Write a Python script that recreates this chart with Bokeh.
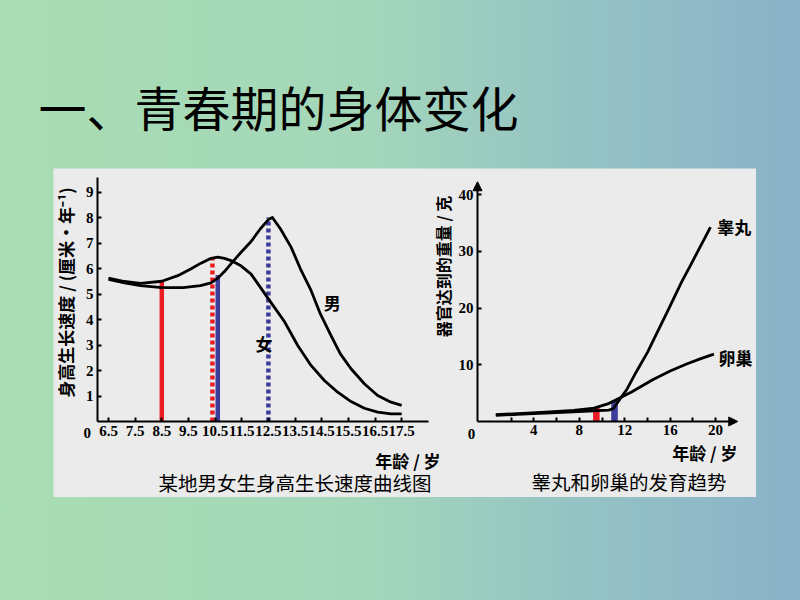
import math
from bokeh.plotting import figure
from bokeh.models import (Range1d, FixedTicker, Label, Arrow, NormalHead, Spacer,
                          LinearAxis)
from bokeh.layouts import column, row
from bokeh.embed import file_html
from bokeh.resources import INLINE

# ---------------- data: 某地男女生身高生长速度曲线图 ----------------
left_age_ticks = [6.5, 7.5, 8.5, 9.5, 10.5, 11.5, 12.5, 13.5, 14.5, 15.5, 16.5, 17.5]
left_speed_ticks = [1, 2, 3, 4, 5, 6, 7, 8, 9]

girl_age = [6.5, 7.1, 7.7, 8.5, 9.1, 9.6, 9.95, 10.35, 10.6, 10.85, 11.1, 11.45,
            11.85, 12.2, 12.5, 13.1, 13.6, 14.1, 14.6, 15.1, 15.6, 16.1, 16.6, 17.1, 17.5]
girl_speed = [5.62, 5.49, 5.42, 5.50, 5.72, 5.99, 6.20, 6.40, 6.45, 6.40, 6.31, 6.12,
              5.78, 5.26, 4.81, 3.92, 2.98, 2.20, 1.61, 1.15, 0.78, 0.52, 0.37, 0.30, 0.30]

boy_age = [6.5, 7.1, 7.7, 8.5, 9.3, 9.95, 10.35, 10.6, 10.85, 11.15, 11.45, 11.85, 12.2,
           12.5, 12.65, 12.95, 13.35, 13.7, 14.1, 14.45, 14.85, 15.2, 15.6, 16.1, 16.6, 17.1, 17.5]
boy_speed = [5.57, 5.44, 5.33, 5.25, 5.25, 5.33, 5.44, 5.62, 5.88, 6.25, 6.61, 7.06, 7.56,
             7.92, 8.00, 7.56, 6.84, 5.99, 5.14, 4.22, 3.37, 2.65, 2.07, 1.48, 1.02, 0.76, 0.63]

red_solid_age, red_solid_top = [8.5], [5.5]
red_dot_age, red_dot_top = [10.4], [6.45]
blue_solid_age, blue_solid_top = [10.6], [5.75]
blue_dot_age, blue_dot_top = [12.5], [8.0]

# ---------------- data: 睾丸和卵巢的发育趋势 ----------------
right_age_ticks = [4, 8, 12, 16, 20]
right_age_minor = [2, 6, 10, 14, 18]
weight_ticks = [10, 20, 30, 40]

testis_age = [0.65, 3.0, 5.0, 7.5, 9.3, 10.6, 11.0, 11.35, 11.7, 12.2, 13.0, 14.0,
              15.0, 16.0, 17.0, 17.8, 19.55]
testis_weight = [1.1, 1.3, 1.5, 1.7, 1.9, 2.0, 2.3, 3.3, 4.3, 5.7, 8.7, 12.2,
                 16.3, 20.4, 24.6, 27.6, 34.3]

ovary_age = [0.65, 3.0, 5.0, 7.5, 9.3, 10.5, 11.6, 12.6, 14.5, 16.0, 17.5, 18.7, 19.85]
ovary_weight = [1.2, 1.45, 1.65, 1.95, 2.35, 3.1, 4.2, 5.2, 7.4, 8.9, 10.2, 11.1, 11.9]

red_bar_age, red_bar_top = [9.5], [2.4]
blue_bar_age, blue_bar_top = [11.1], [3.65]

# ---------------- styles ----------------
BOX = "#ebebeb"
CJK = "Noto Sans CJK SC"
NUM = "Liberation Serif"
RED = "#ee1d23"
BLUE = "#3c3c9c"


def style_axis(ax, ticks, minor=None):
    ax.ticker = FixedTicker(ticks=ticks, minor_ticks=minor or [])
    ax.axis_line_width = 2
    ax.axis_line_color = "black"
    ax.major_tick_in = 4
    ax.major_tick_out = 0
    ax.major_tick_line_width = 2
    ax.major_tick_line_color = "black"
    ax.minor_tick_in = 4 if minor else 0
    ax.minor_tick_out = 0
    ax.minor_tick_line_width = 2
    ax.minor_tick_line_color = "black"
    ax.major_label_text_font = NUM
    ax.major_label_text_font_style = "bold"
    ax.major_label_text_font_size = "15px"
    ax.major_label_text_color = "black"
    ax.major_label_standoff = 4


def label(fig, x, y, text, size, bold=True, align="left", angle=0.0, font=CJK, rng=None):
    extra = {"x_range_name": rng, "y_range_name": rng} if rng else {}
    fig.add_layout(Label(x=x, y=y, text=text, text_font=font, text_font_size=size,
                         text_font_style="bold" if bold else "normal", text_align=align,
                         text_baseline="middle", text_color="black", angle=angle, **extra))


# ---------------- page title ----------------
top = figure(width=800, height=168, x_range=Range1d(0, 800), y_range=Range1d(0, 168),
             output_backend="svg", toolbar_location=None, min_border=0,
             x_axis_location=None, y_axis_location=None,
             background_fill_color=None, border_fill_color=None, outline_line_color=None)
top.grid.visible = False
top.add_layout(Label(x=38, y=63, text="一、青春期的身体变化", text_font=CJK,
                     text_font_size="48px", text_baseline="middle", text_color="black"))

# ---------------- the white box holding both charts ----------------
# left chart: 26.65 px per year, 25.5 px per cm/yr ; right chart: 11.36 px per year, 5.667 px per g
L_X0, L_XEND, L_YEND = 6.087, 18.51, 9.57
R_X0, R_XEND, R_YEND = -0.96, 21.5, 41.3

box = figure(width=703, height=329,
             x_range=Range1d(4.436, 30.815), y_range=Range1d(-2.980, 9.922),
             output_backend="svg", toolbar_location=None, min_border=0,
             x_axis_location=None, y_axis_location=None,
             background_fill_color=BOX, border_fill_color=BOX, outline_line_color=None)
box.extra_x_ranges = {"r": Range1d(-38.29, 23.60)}
box.extra_y_ranges = {"r": Range1d(-13.41, 44.64)}
box.grid.visible = False

# --- left axes
lx = LinearAxis(fixed_location=0, bounds=(L_X0, L_XEND))
style_axis(lx, left_age_ticks)
box.add_layout(lx, "below")
ly = LinearAxis(fixed_location=L_X0, bounds=(0, L_YEND))
style_axis(ly, left_speed_ticks)
box.add_layout(ly, "left")

# --- right axes
rx = LinearAxis(x_range_name="r", y_range_name="r", fixed_location=0, bounds=(R_X0, R_XEND))
style_axis(rx, right_age_ticks, right_age_minor)
box.add_layout(rx, "below")
ry = LinearAxis(x_range_name="r", y_range_name="r", fixed_location=R_X0, bounds=(0, R_YEND))
style_axis(ry, weight_ticks)
box.add_layout(ry, "left")

for xs, ys, xe, ye in [(R_XEND - 0.2, 0, R_XEND + 0.45, 0), (R_X0, R_YEND - 0.4, R_X0, R_YEND + 1.0)]:
    box.add_layout(Arrow(end=NormalHead(size=9, fill_color="black", line_color="black", line_width=1),
                         x_start=xs, y_start=ys, x_end=xe, y_end=ye,
                         line_color="black", line_width=2, x_range_name="r", y_range_name="r"))

# --- left marks
box.segment(x0=red_solid_age, y0=[0], x1=red_solid_age, y1=red_solid_top,
            line_color=RED, line_width=4.5, line_cap="butt")
box.segment(x0=red_dot_age, y0=[0], x1=red_dot_age, y1=red_dot_top,
            line_color=RED, line_width=4.5, line_dash="4 3", line_cap="butt")
box.segment(x0=blue_solid_age, y0=[0], x1=blue_solid_age, y1=blue_solid_top,
            line_color=BLUE, line_width=4.5, line_cap="butt")
box.segment(x0=blue_dot_age, y0=[0], x1=blue_dot_age, y1=blue_dot_top,
            line_color=BLUE, line_width=4.5, line_dash="4 3", line_cap="butt")
box.line(girl_age, girl_speed, line_color="black", line_width=2.8, line_join="round")
box.line(boy_age, boy_speed, line_color="black", line_width=2.8, line_join="round")

# --- right marks
box.vbar(x=red_bar_age, top=red_bar_top, width=0.58, fill_color=RED, line_color=None,
         x_range_name="r", y_range_name="r")
box.vbar(x=blue_bar_age, top=blue_bar_top, width=0.58, fill_color=BLUE, line_color=None,
         x_range_name="r", y_range_name="r")
box.line(ovary_age, ovary_weight, line_color="black", line_width=2.8, line_join="round",
         x_range_name="r", y_range_name="r")
box.line(testis_age, testis_weight, line_color="black", line_width=2.8, line_join="round",
         x_range_name="r", y_range_name="r")

# --- left texts
label(box, 14.58, 4.65, "男", "17px")
label(box, 12.02, 3.05, "女", "17px")
label(box, 5.70, -0.47, "0", "15px", align="center", font=NUM)
label(box, 4.886, 5.06, "身高生长速度 / (厘米·年⁻¹)", "17px", align="center", angle=math.pi / 2)
label(box, 18.96, -1.53, "年龄 / 岁", "17px", align="right")
label(box, 13.5, -2.39, "某地男女生身高生长速度曲线图", "19.5px", bold=False, align="center")

# --- right texts
label(box, 20.14, 34.4, "睾丸", "17px", rng="r")
label(box, 20.26, 11.3, "卵巢", "17px", rng="r")
label(box, -1.49, -2.12, "0", "15px", align="center", font=NUM, rng="r")
label(box, -4.0, 27.35, "器官达到的重量 / 克", "16px", align="center", angle=math.pi / 2, rng="r")
label(box, 21.93, -5.47, "年龄 / 岁", "17px", align="right", rng="r")
label(box, 12.38, -10.59, "睾丸和卵巢的发育趋势", "19.5px", bold=False, align="center", rng="r")

# ---------------- page ----------------
middle = row(Spacer(width=53, height=329), box, Spacer(width=44, height=329))
page = column(top, middle, Spacer(width=800, height=103), width=800, height=600,
              styles={"background": "linear-gradient(to right, #a9ddb2 0%, #a4d7ba 45%, #95c3c4 72%, #8ab2c9 100%)"})

open("out.html", "w").write(file_html(page, INLINE))
